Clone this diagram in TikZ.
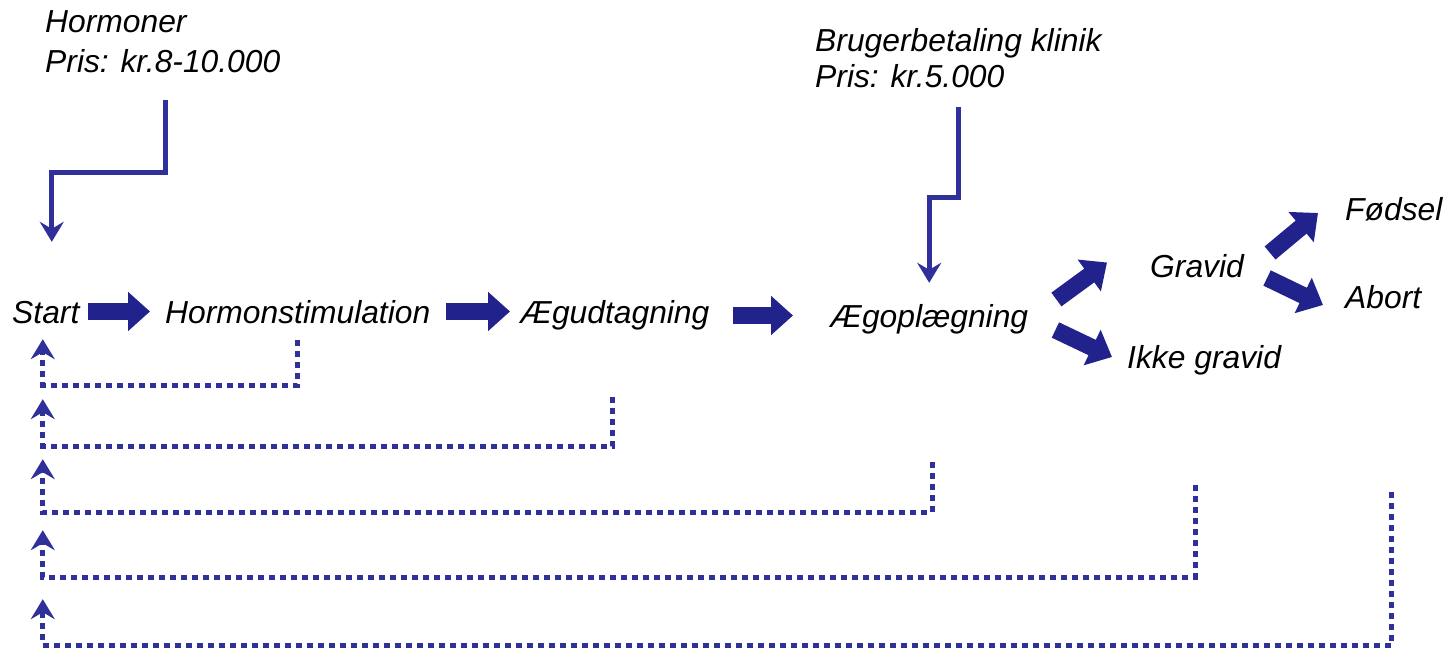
\documentclass[tikz,border=0pt]{standalone}
\usepackage{fontspec}
\setmainfont{Liberation Sans}
\usetikzlibrary{arrows.meta,calc}
\definecolor{navy}{RGB}{34,34,140}
\definecolor{lineblue}{RGB}{48,48,155}
\begin{document}
\begin{tikzpicture}[x=1pt,y=-1pt,
 lbl/.style={font=\fontsize{31.8}{38}\selectfont\itshape, inner sep=0pt, text height=23pt, text depth=0pt, anchor=base west},
 fat/.style={draw=navy, line width=17pt, -{Triangle[length=22pt,width=38pt]}},
 solidc/.style={draw=lineblue, line width=5pt, -{Stealth[length=20pt,width=24pt,inset=7pt]}},
 dotc/.style={draw=lineblue, line width=5pt, dash pattern=on 6pt off 5pt, -{Stealth[length=20pt,width=24pt,inset=7pt]}}]
\useasboundingbox (0,0) rectangle (1445,652);
\node[lbl] (start) at (12,323) {Start};
\node[lbl] (hs) at (165,323) {Hormonstimulation};
\node[lbl] (ud) at (520,323) {Ægudtagning};
\node[lbl] (op) at (830,327) {Ægoplægning};
\node[lbl] (gr) at (1150,278) {Gravid};
\node[lbl] (ikke) at (1127,368) {Ikke gravid};
\node[lbl] (fod) at (1345,221) {Fødsel};
\node[lbl] (abort) at (1345,308) {Abort};
\node[lbl] (h1) at (45,33) {Hormoner};
\node[lbl] (h2) at (45,73) {Pris: kr.8-10.000};
\node[lbl] (b1) at (815,52) {Brugerbetaling klinik};
\node[lbl] (b2) at (815,88) {Pris: kr.5.000};
% main flow
\draw[fat, shorten <=8pt, shorten >=15pt] (start.east) -- (hs.west);
\draw[fat, shorten <=15pt, shorten >=10pt] (hs.east) -- (ud.west);
\draw[fat, shorten <=23pt, shorten >=37pt] (ud.east |- op.west) -- (op.west);
\draw[fat] ($(op.east)+(28,-16)$) -- ($(gr.west)+(-43,-4)$);
\draw[fat] ($(op.east)+(27,14.5)$) -- ($(ikke.west)+(-15,0.5)$);
\draw[fat] ($(gr.east)+(26,-13.5)$) -- ($(fod.west)+(-27,3.5)$);
\draw[fat] ($(gr.east)+(23,11.5)$) -- ($(abort.west)+(-22,8.5)$);
% cost connectors
\draw[solidc] ([xshift=3pt,yshift=-27pt]h2.south) -- ++(0,72) -| ([xshift=6pt,yshift=58pt]start.north);
\draw[solidc] ([xshift=49pt,yshift=-19pt]b2.south) -- ++(0,90) -| ([yshift=21pt]op.north);
% feedback loops
\draw[dotc] ([yshift=-17pt]hs.south) -- ++(0,45) -| ([xshift=-3pt,yshift=-16pt]start.south);
\draw[dotc] ([xshift=-2pt,yshift=-74pt]ud.south) -- ++(0,49) -| ([xshift=-3pt,yshift=-76pt]start.south);
\draw[dotc] ([xshift=3pt,yshift=-135pt]op.south) -- ++(0,50) -| ([xshift=-3pt,yshift=-136pt]start.south);
\draw[dotc] ([xshift=-2pt,yshift=-207pt]gr.south) -- ++(0,92) -| ([xshift=-3pt,yshift=-207pt]start.south);
\draw[dotc] ([xshift=-2pt,yshift=-271pt]fod.south) -- ++(0,153) -| ([xshift=-3pt,yshift=-276pt]start.south);
\end{tikzpicture}
\end{document}
